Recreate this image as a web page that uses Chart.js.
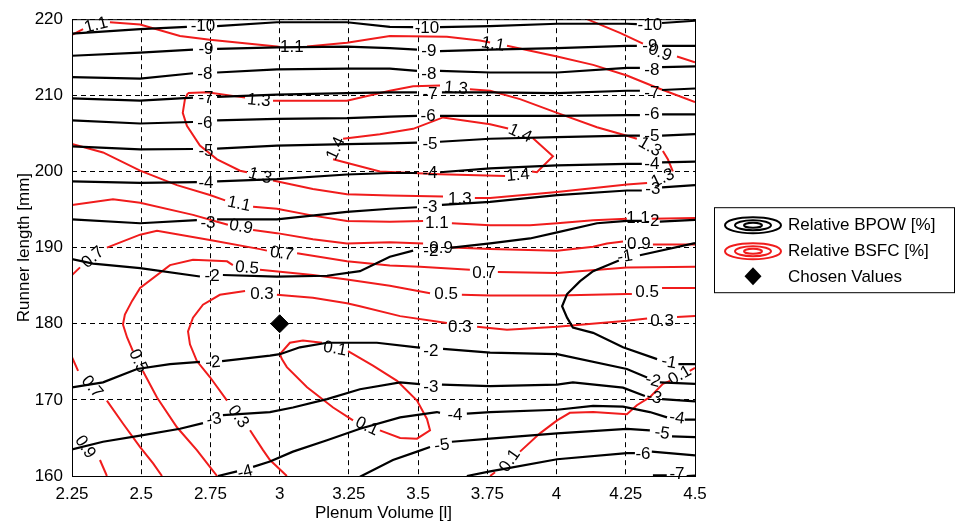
<!DOCTYPE html>
<html>
<head>
<meta charset="utf-8">
<script src="https://cdn.jsdelivr.net/npm/chart.js@4.4.1/dist/chart.umd.min.js"></script>
<style>
  body { margin: 0; background: #fff; }
  #wrap { width: 956px; height: 526px; }
</style>
</head>
<body>
<div id="wrap"><canvas id="contour-chart"></canvas></div>
<script>
// axes
const xTicks = [2.25, 2.5, 2.75, 3, 3.25, 3.5, 3.75, 4, 4.25, 4.5];
const xTickLabels = ['2.25', '2.5', '2.75', '3', '3.25', '3.5', '3.75', '4', '4.25', '4.5'];
const yTicks = [160, 170, 180, 190, 200, 210, 220];
const yTickLabels = ['160', '170', '180', '190', '200', '210', '220'];

// chosen point
const chosenX = [3];
const chosenY = [180];

// Relative BPOW contours, points [volume, runner length], null = gap for a label
const bpowLines = [
  [[2.25,218.1],[2.496,218.7],[2.665,219.0],null,[2.774,219.1],[2.99,219.6],[3.243,219.6],[3.398,219.0],[3.482,218.96],null,[3.579,218.96],[3.76,219.1],[4.002,219.4],[4.254,219.4],[4.29,219.35],null,[4.381,219.5],[4.5,219.8]],
  [[2.25,215.2],[2.496,215.6],[2.687,216.0],null,[2.774,216.1],[2.99,216.3],[3.243,216.4],[3.398,216.2],[3.496,216.0],null,[3.579,215.8],[3.76,216.0],[4.002,216.2],[4.254,216.5],[4.29,216.5],null,[4.381,216.5],[4.5,216.5]],
  [[2.25,212.4],[2.496,212.2],[2.687,212.9],null,[2.774,213.0],[2.99,213.4],[3.243,213.5],[3.398,213.5],[3.496,213.2],null,[3.579,213.2],[3.76,213.0],[4.002,213.0],[4.254,213.6],[4.301,213.6],null,[4.381,213.7],[4.5,213.8]],
  [[2.25,209.6],[2.496,209.3],[2.687,209.7],null,[2.774,209.8],[2.99,210.1],[3.243,210.3],[3.398,210.4],[3.496,210.4],null,[3.586,210.4],[3.76,210.4],[4.002,210.3],[4.254,210.6],[4.301,210.6],null,[4.381,210.7],[4.5,210.9]],
  [[2.25,206.7],[2.496,206.3],[2.687,206.5],null,[2.774,206.7],[2.99,206.9],[3.243,207.0],[3.398,207.2],[3.496,207.3],null,[3.579,207.3],[3.76,207.3],[4.002,207.3],[4.254,207.4],[4.301,207.4],null,[4.381,207.5],[4.5,207.5]],
  [[2.25,203.3],[2.496,202.9],[2.687,202.95],null,[2.774,203.0],[2.99,203.4],[3.243,203.6],[3.398,203.7],[3.496,203.8],null,[3.579,203.9],[3.76,204.3],[4.002,204.5],[4.254,204.7],[4.301,204.7],null,[4.381,204.7],[4.5,204.9]],
  [[2.25,198.7],[2.496,198.5],[2.701,198.6],null,[2.774,198.7],[2.99,199.0],[3.243,199.6],[3.398,199.8],[3.496,199.8],null,[3.579,199.9],[3.76,200.4],[4.002,200.8],[4.254,201.0],[4.308,201.0],null,[4.381,201.2],[4.5,201.3]],
  [[2.25,193.7],[2.496,193.2],[2.701,193.6],null,[2.774,193.7],[2.99,193.7],[3.243,194.7],[3.398,195.1],[3.496,195.3],null,[3.586,195.6],[3.76,196.0],[4.002,196.9],[4.254,197.5],[4.308,197.5],null,[4.381,197.9],[4.5,198.2]],
  [[2.25,188.5],[2.326,187.9],[2.496,187.3],[2.712,186.2],null,[2.795,186.4],[2.99,186.2],[3.171,186.3],[3.29,186.9],[3.398,188.8],[3.482,189.6],null,[3.622,190.0],[3.76,190.55],[3.904,191.2],[4.002,192.0],[4.146,193.2],[4.254,193.5],[4.308,193.5],null,[4.373,193.4],[4.5,193.65]],
  [[4.5,190.6],[4.301,189.0],null,[4.225,188.3],[4.132,186.9],[4.085,185.6],[4.038,183.9],[4.02,182.3],[4.038,180.8],[4.059,179.5],[4.132,178.8],[4.24,176.9],[4.363,175.35],null,[4.44,174.7],[4.5,174.7]],
  [[2.25,171.65],[2.362,172.3],[2.485,174.05],[2.604,174.7],[2.712,175.0],null,[2.792,175.1],[2.965,175.8],[3.001,176.0],[3.073,176.9],[3.171,177.5],[3.351,177.5],[3.496,176.9],[3.507,176.85],null,[3.59,176.7],[3.76,176.2],[4.002,176.0],[4.254,174.05],[4.327,172.95],null,[4.373,172.3],[4.5,172.1]],
  [[2.25,163.5],[2.362,164.5],[2.496,165.3],[2.64,166.2],[2.723,166.95],null,[2.795,168.0],[2.965,168.4],[3.048,169.0],[3.171,170.1],[3.29,171.4],[3.435,172.3],[3.496,172.1],[3.507,172.05],null,[3.586,172.0],[3.76,171.8],[4.002,172.0],[4.059,172.3],[4.24,171.6],[4.319,170.5],null,[4.381,170.1],[4.5,169.8]],
  [[2.777,160],[2.846,160.6],null,[2.904,161.2],[2.965,161.9],[3.048,163.2],[3.171,164.7],[3.29,166.2],[3.435,167.7],[3.568,168.4],[3.579,168.3],null,[3.676,168.2],[3.76,168.4],[4.002,168.7],[4.132,169.2],[4.24,169.1],[4.337,168.4],[4.399,167.7],null,[4.463,167.4],[4.5,167.4]],
  [[3.29,159.9],[3.409,162.1],[3.496,163.2],[3.543,163.8],null,[3.622,164.5],[3.76,164.9],[4.002,165.6],[4.254,166.2],[4.337,166.0],null,[4.417,165.2],[4.5,165.1]],
  [[3.676,160],[3.76,160.6],[3.821,161.0],[4.002,162.2],[4.254,163.0],[4.283,163.0],null,[4.344,163.2],[4.5,162.7]],
  [[4.348,160.1],[4.398,160.1],null,[4.47,160.0],[4.5,160.05]]
];

// [volume, length, text, angle in degrees]
const bpowText = [
  [2.723,219.1,'-10',0],[3.532,218.8,'-10',0],[4.337,219.2,'-10',0],
  [2.734,216.0,'-9',0],[3.539,215.8,'-9',0],[4.337,216.5,'-9',0],
  [2.73,212.8,'-8',0],[3.539,212.8,'-8',0],[4.344,213.3,'-8',0],
  [2.734,209.6,'-7',0],[3.543,210.1,'-7',0],[4.344,210.3,'-7',0],
  [2.73,206.3,'-6',0],[3.536,207.3,'-6',0],[4.344,207.5,'-6',0],
  [2.734,202.65,'-5',0],[3.543,203.6,'-5',0],[4.344,204.6,'-5',0],
  [2.734,198.5,'-4',0],[3.543,199.8,'-4',0],[4.344,201.0,'-4',0],
  [2.741,193.25,'-3',0],[3.543,195.3,'-3',0],[4.348,197.6,'-3',0],
  [2.756,186.2,'-2',0],[3.546,189.5,'-2',0],[4.344,193.4,'-2',0],
  [4.247,188.8,'-1',-10],[4.406,174.9,'-1',10],
  [2.759,174.9,'-2',-5],[3.546,176.4,'-2',0],[4.348,172.5,'-2',15],
  [2.763,167.4,'-3',-10],[3.546,171.7,'-3',0],[4.352,170.3,'-3',12],
  [2.875,160.5,'-4',-15],[3.633,168.0,'-4',0],[4.435,167.6,'-4',8],
  [3.586,164.0,'-5',-8],[4.381,165.6,'-5',8],
  [4.312,162.9,'-6',0],
  [4.435,160.25,'-7',0]
];

// Relative BSFC contours
const bsfcLines = [
  [[2.25,217.95],[2.29,218.7],null,[2.387,219.6],[2.496,219.3],[2.64,217.8],[2.748,217.3],[2.99,216.4],[3.001,216.35],null,[3.099,216.4],[3.243,216.9],[3.398,217.8],[3.604,217.7],[3.723,217.2],[3.76,216.95],null,[3.821,216.5],[4.002,215.1],[4.132,214.0],[4.254,212.6],[4.363,211.0],[4.5,209.1]],
  [[4.11,220],[4.229,218.2],[4.312,216.8],null,[4.435,215.1],[4.5,214.35]],
  [[2.669,210.3],[2.738,210.4],[2.875,209.7],null,[2.976,209.3],[3.243,209.3],[3.398,210.6],[3.482,211.2],[3.579,211.3],null,[3.687,210.8],[3.76,210.6],[3.868,209.5],[4.002,207.7],[4.146,205.8],[4.254,204.7],[4.29,204.3],null,[4.384,202.7],[4.402,201.6],[4.42,200.0],null,[4.327,198.5],[4.254,198.3],[4.002,197.3],[3.76,196.5],[3.705,196.5],null,[3.59,196.7],[3.398,196.85],[3.243,197.0],[3.12,197.7],[2.976,198.8],null,[2.882,199.9],[2.857,200.1],[2.774,201.6],[2.712,203.4],[2.665,206.0],[2.65,207.7],[2.658,209.5],[2.669,210.3]],
  [[3.229,204.3],[3.362,204.9],[3.482,205.6],[3.59,207.1],[3.76,206.2],[3.825,205.65],null,[3.915,204.35],[3.987,202.0],[3.929,199.9],[3.911,200.0],null,[3.814,199.4],[3.579,199.65],[3.362,200.0],[3.193,201.6]],
  [[2.25,203.6],[2.362,202.5],[2.496,200.1],[2.629,198.2],[2.748,196.9],[2.803,196.2],null,[2.904,195.35],[2.99,195.1],[3.12,194.2],[3.243,193.5],[3.398,193.4],[3.518,193.5],null,[3.622,193.2],[3.76,192.95],[3.904,192.95],[4.002,193.2],[4.132,193.6],[4.254,193.8],null,[4.344,193.8],[4.5,193.9]],
  [[2.25,195.6],[2.398,196.35],[2.496,195.9],[2.687,194.3],[2.774,193.4],[2.813,193.0],null,[2.904,192.3],[2.99,191.9],[3.12,191.1],[3.243,190.55],[3.398,190.7],[3.518,190.55],null,[3.622,190.0],[3.76,189.8],[4.002,189.6],[4.132,190.1],[4.182,190.55],[4.24,190.8],null,[4.348,190.4],[4.5,190.4]],
  [[2.25,186.4],[2.279,187.4],null,[2.376,190.0],[2.496,191.7],[2.557,192.2],[2.748,191.0],[2.929,189.8],[2.954,189.6],null,[3.063,189.25],[3.243,188.2],[3.398,187.65],[3.507,187.5],[3.687,187.1],null,[3.788,186.8],[4.002,186.65],[4.254,187.4],[4.5,187.5]],
  [[2.774,160],[2.748,161.2],[2.701,163.4],[2.629,166.4],[2.557,170.3],[2.506,173.8],null,[2.47,176.4],[2.449,178.2],[2.434,179.9],[2.441,181.2],[2.467,183.0],[2.496,184.7],[2.604,187.7],[2.687,188.4],[2.81,188.2],[2.831,187.7],null,[2.929,187.1],[3.12,186.4],[3.243,185.8],[3.398,185.0],[3.543,184.0],null,[3.658,183.8],[3.76,183.7],[4.002,183.7],[4.254,183.9],[4.272,183.9],null,[4.381,184.7],[4.5,184.7]],
  [[4.5,181.0],[4.435,180.9],null,[4.327,180.7],[4.254,180.4],[4.002,179.6],[3.821,179.2],[3.713,179.6],null,[3.604,180.1],[3.435,181.0],[3.29,182.3],[3.243,182.7],[3.12,183.4],[2.99,183.8],null,[2.875,184.3],[2.784,183.8],[2.723,182.5],[2.687,180.8],[2.669,179.0],[2.676,177.3],[2.701,175.1],[2.748,173.0],[2.81,169.9],null,[2.893,166.0],[2.94,163.4],[2.965,162.1],[3.026,160]],
  [[2.25,175.6],[2.272,173.8],null,[2.376,169.9],[2.434,166.9],[2.496,163.8],[2.543,161.65],[2.575,160]],
  [[2.25,166.3],null,[2.351,162.1],[2.376,160]],
  [[3.001,176.0],[3.037,177.5],[3.084,177.8],[3.153,177.5],null,[3.247,176.4],[3.337,174.5],[3.424,172.5],[3.496,169.9],[3.532,167.5],[3.543,166.0],[3.496,164.9],[3.435,165.0],[3.362,166.0],null,[3.265,167.3],[3.193,169.0],[3.099,171.65],[3.026,174.3],[3.008,175.35],[3.001,176.0]],
  [[3.76,160],[3.778,160.5],null,[3.868,163.2],[3.94,165.6],[4.002,167.3],[4.048,168.3],[4.132,168.4],[4.254,168.1],[4.29,169.3],[4.337,170.35],[4.384,172.1],[4.41,172.5],null,[4.481,173.8],[4.5,174.2]]
];

const bsfcText = [
  [2.337,219.2,'1.1',-14],[3.044,216.3,'1.1',0],[3.77,216.7,'1.1',10],
  [4.373,215.6,'0.9',20],
  [2.925,209.3,'1.3',5],[3.637,210.9,'1.3',5],[4.337,203.2,'1.3',30],[4.384,199.1,'1.3',-25],[3.651,196.4,'1.3',0],[2.929,199.4,'1.3',15],
  [3.868,205.0,'1.4',25],[3.861,199.5,'1.4',-5],[3.203,203.0,'1.4',-65],
  [2.853,195.7,'1.1',12],[3.568,193.25,'1.1',0],[4.294,193.8,'1.1',0],
  [2.86,192.7,'0.9',10],[3.583,189.9,'0.9',0],[4.297,190.4,'0.9',0],
  [2.326,188.7,'0.7',-40],[3.008,189.2,'0.7',8],[3.738,186.6,'0.7',0],
  [2.488,175.1,'0.5',65],[2.882,187.3,'0.5',5],[3.601,183.9,'0.5',0],[4.327,184.1,'0.5',0],
  [4.381,180.35,'0.3',0],[3.651,179.55,'0.3',0],[2.936,183.9,'0.3',0],[2.85,167.8,'0.3',55],
  [2.322,171.7,'0.7',50],
  [2.297,163.8,'0.9',55],
  [3.2,176.7,'0.1',10],[3.315,166.5,'0.1',25],[3.832,162.0,'0.1',-55],[4.445,173.2,'0.1',-30]
];

const FONT = '"Liberation Sans", Arial, sans-serif';
const RED = '#f01c1c';

function toPoints(line) {
  const out = [];
  let lastX = line[0][0];
  line.forEach(p => {
    if (p) { out.push({ x: p[0], y: p[1] }); lastX = p[0]; }
    else out.push({ x: lastX, y: null });
  });
  return out;
}

const datasets = [{
  label: 'Chosen Values',
  data: chosenX.map((v, i) => ({ x: v, y: chosenY[i] })),
  pointStyle: 'rectRot',
  pointRadius: 9,
  backgroundColor: '#000',
  borderColor: '#000',
  showLine: false
}];
bpowLines.forEach(l => datasets.push({
  label: 'Relative BPOW [%]', data: toPoints(l), showLine: true, spanGaps: false,
  borderColor: '#000', borderWidth: 2.2, pointRadius: 0, tension: 0
}));
bsfcLines.forEach(l => datasets.push({
  label: 'Relative BSFC [%]', data: toPoints(l), showLine: true, spanGaps: false,
  borderColor: RED, borderWidth: 2, pointRadius: 0, tension: 0
}));

const extras = {
  id: 'extras',
  afterDatasetsDraw(chart) {
    const { ctx, scales: { x, y } } = chart;
    ctx.save();
    ctx.font = '17px ' + FONT;
    ctx.fillStyle = '#000';
    ctx.textAlign = 'center';
    ctx.textBaseline = 'middle';
    bpowText.concat(bsfcText).forEach(([vx, vy, t, a]) => {
      ctx.save();
      ctx.translate(x.getPixelForValue(vx), y.getPixelForValue(vy));
      ctx.rotate(a * Math.PI / 180);
      ctx.fillText(t, 0, 0);
      ctx.restore();
    });
    ctx.restore();
  },
  afterDraw(chart) {
    const { ctx, chartArea: a } = chart;
    ctx.save();
    // axes frame
    ctx.strokeStyle = '#000';
    ctx.lineWidth = 1;
    ctx.strokeRect(a.left + 0.5, a.top + 0.5, a.right - a.left, a.bottom - a.top);

    // legend
    const lx = a.right + 19, ly = a.top + 188;
    ctx.strokeRect(lx + 0.5, ly + 0.5, 240, 85);
    const rows = [
      { color: '#000', cy: ly + 18 },
      { color: RED, cy: ly + 44 }
    ];
    rows.forEach(r => {
      ctx.strokeStyle = r.color;
      ctx.lineWidth = 2;
      [[28, 8], [18, 5], [9, 2.5]].forEach(([rx, ry]) => {
        ctx.beginPath();
        ctx.ellipse(lx + 39, r.cy, rx, ry, 0, 0, Math.PI * 2);
        ctx.stroke();
      });
    });
    ctx.fillStyle = '#000';
    ctx.beginPath();
    const dx = lx + 39, dy = ly + 69;
    ctx.moveTo(dx, dy - 9); ctx.lineTo(dx + 8.5, dy); ctx.lineTo(dx, dy + 9); ctx.lineTo(dx - 8.5, dy);
    ctx.closePath();
    ctx.fill();
    ctx.font = '17px ' + FONT;
    ctx.textAlign = 'left';
    ctx.textBaseline = 'middle';
    ctx.fillText('Relative BPOW [%]', lx + 74, ly + 18);
    ctx.fillText('Relative BSFC [%]', lx + 74, ly + 44);
    ctx.fillText('Chosen Values', lx + 74, ly + 70);
    ctx.restore();
  }
};

const ctx = document.getElementById('contour-chart').getContext('2d');
const myChart = new Chart(ctx, {
  type: 'scatter',
  data: { datasets: datasets },
  plugins: [extras],
  options: {
    responsive: true,
    maintainAspectRatio: false,
    animation: false,
    events: [],
    layout: { padding: { top: 16, right: 261, left: 0, bottom: 0 } },
    plugins: { legend: { display: false }, tooltip: { enabled: false } },
    scales: {
      x: {
        type: 'linear', min: 2.25, max: 4.5,
        afterBuildTicks: s => { s.ticks = xTicks.map(v => ({ value: v })); },
        afterFit: s => { s.height = 50; },
        ticks: {
          color: '#000', font: { family: FONT, size: 17 }, padding: 8,
          callback: (v) => xTickLabels[xTicks.indexOf(v)]
        },
        grid: { color: '#000', lineWidth: 1, drawTicks: false },
        border: { display: false, dash: [5, 4] },
        title: { display: true, text: 'Plenum Volume [l]', color: '#000', font: { family: FONT, size: 17 }, padding: { top: 0, bottom: 2 } }
      },
      y: {
        type: 'linear', min: 160, max: 220,
        afterBuildTicks: s => { s.ticks = yTicks.map(v => ({ value: v })); },
        afterFit: s => { s.width = 72; },
        ticks: {
          color: '#000', font: { family: FONT, size: 17 }, padding: 9,
          callback: (v) => yTickLabels[yTicks.indexOf(v)]
        },
        grid: { color: '#000', lineWidth: 1, drawTicks: false },
        border: { display: false, dash: [5, 4] },
        title: { display: true, text: 'Runner length [mm]', color: '#000', font: { family: FONT, size: 17 }, padding: { top: 14, bottom: 0 } }
      }
    }
  }
});
</script>
</body>
</html>
